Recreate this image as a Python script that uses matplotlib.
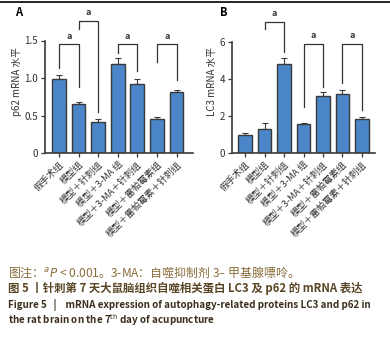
import matplotlib
matplotlib.use("Agg")
import matplotlib.pyplot as plt
import numpy as np

plt.rcParams['font.family'] = ['Noto Sans CJK SC', 'DejaVu Sans']

groups = ['假手术组', '模型组', '模型＋针刺组', '模型＋3-MA 组', '模型＋3-MA＋针刺组',
          '模型＋雷帕霉素组', '模型＋雷帕霉素＋针刺组']
p62_mean = [0.99, 0.65, 0.41, 1.19, 0.92, 0.45, 0.81]
p62_err = [0.05, 0.03, 0.05, 0.08, 0.07, 0.03, 0.03]
lc3_mean = [0.97, 1.30, 4.80, 1.57, 3.10, 3.19, 1.84]
lc3_err = [0.11, 0.32, 0.34, 0.05, 0.18, 0.21, 0.11]

# brackets: (i, j, top, left leg end, right leg end)
p62_sig = [(0, 1, 1.45, 1.13, 0.88), (1, 2, 1.76, 1.66, 0.55),
           (3, 4, 1.45, 1.33, 1.09), (5, 6, 1.45, 1.21, 0.98)]
lc3_sig = [(1, 2, 7.1, 6.7, 5.45), (3, 4, 5.9, 2.5, 3.55), (5, 6, 5.9, 3.8, 2.3)]

bar_col = '#4a86c8'
edge_col = '#3a3a3a'

W, H = 390, 339
fig = plt.figure(figsize=(W / 100, H / 100), dpi=100)

# thin rule at top
fig.add_artist(plt.Line2D([0, 1], [1 - 1.5 / H, 1 - 1.5 / H], color='black', lw=1.2))


def panel(left_px, right_px, xl, ymax, yticks, yticklabels, means, errs, sig, ylabel):
    ax = fig.add_axes([left_px / W, (H - 153) / H, (right_px - left_px) / W, 143 / H])
    x = np.arange(len(means))
    ax.bar(x, means, width=0.7, color=bar_col, edgecolor=edge_col, linewidth=1.0, zorder=2)
    ax.errorbar(x, means, yerr=[np.zeros(len(errs)), errs], fmt='none', ecolor=edge_col,
                elinewidth=0.8, capsize=2.5, capthick=0.8, zorder=1)
    ax.set_xlim(*xl)
    ax.set_ylim(0, ymax)
    ax.spines['top'].set_visible(False)
    ax.spines['right'].set_visible(False)
    ax.spines['left'].set_bounds(0, yticks[-1])
    for s in ['left', 'bottom']:
        ax.spines[s].set_color(edge_col)
        ax.spines[s].set_linewidth(1.2)
    ax.set_yticks(yticks)
    ax.set_yticklabels(yticklabels, fontsize=7, color='#333333')
    ax.set_xticks(x)
    ax.set_xticklabels(groups, rotation=45, ha='right', rotation_mode='anchor',
                       fontsize=6.7, color='#333333')
    ax.tick_params(axis='both', length=3, width=0.9, color=edge_col, pad=2)
    ax.set_ylabel(ylabel, fontsize=7, color='#333333', labelpad=2)
    for i, j, top, l_end, r_end in sig:
        ax.plot([i, i, j, j], [l_end, top, top, r_end], color='#333333', lw=0.9,
                clip_on=False, zorder=3)
        ax.text((i + j) / 2, top + ymax * 0.025, 'a', ha='center', va='bottom',
                fontsize=6.5, fontweight='bold', color='#333333')
    return ax


panel(45, 193, (-0.71, 6.84), 143 / 75, [0, 0.5, 1.0, 1.5], ['0', '0.5', '1.0', '1.5'],
      p62_mean, p62_err, p62_sig, 'p62 mRNA 水平')
panel(232, 375, (-0.67, 6.67), 143 / 18.5, [0, 2, 4, 6], ['0', '2', '4', '6'],
      lc3_mean, lc3_err, lc3_sig, 'LC3 mRNA 水平')

fig.text(15 / W, 1 - 13 / H, 'A', fontsize=8, fontweight='bold', va='center', ha='left')
fig.text(220 / W, 1 - 13 / H, 'B', fontsize=8, fontweight='bold', va='center', ha='left')

cap1 = '#8a6d3b'
fig.text(8 / W, 1 - 272 / H, '图注：$^{a}$$\\it{P}$ < 0.001。3-MA：自噬抑制剂 3– 甲基腺嘌呤。',
         fontsize=8.6, color=cap1, va='center', ha='left')
fig.text(8 / W, 1 - 288 / H, '图 5 丨针刺第 7 天大鼠脑组织自噬相关蛋白 LC3 及 p62 的 mRNA 表达',
         fontsize=8.2, color='#5a4626', va='center', ha='left', fontweight='bold')
fig.text(8 / W, 1 - 305 / H,
         'Figure 5   |    mRNA expression of autophagy-related proteins LC3 and p62 in',
         fontsize=7.1, color='#3a2e1e', va='center', ha='left', fontweight='bold')
fig.text(8 / W, 1 - 320 / H, 'the rat brain on the 7$^{\\rm th}$ day of acupuncture',
         fontsize=7.1, color='#3a2e1e', va='center', ha='left', fontweight='bold')

fig.savefig('out.png', dpi=100)
